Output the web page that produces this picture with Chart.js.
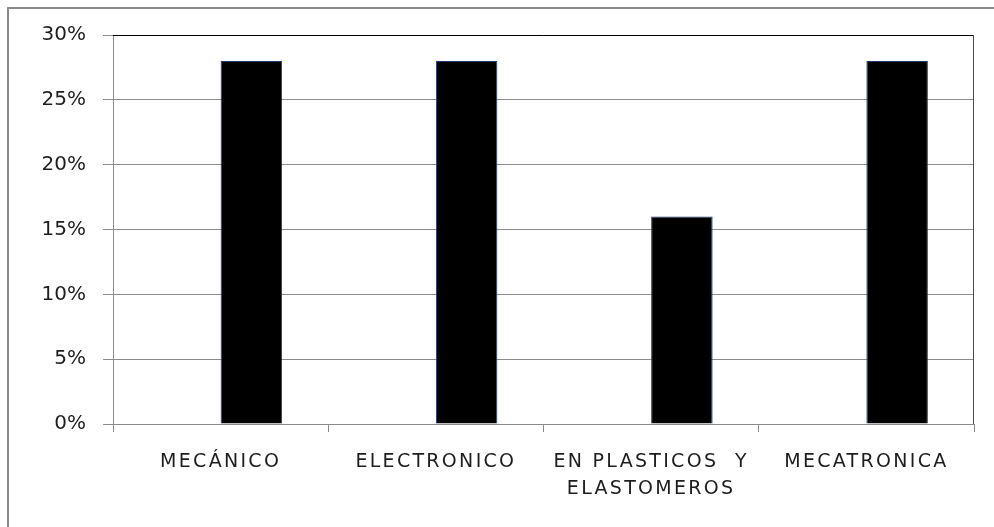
<!DOCTYPE html>
<html>
<head>
<meta charset="utf-8">
<script src="https://cdn.jsdelivr.net/npm/chart.js@4.4.1/dist/chart.umd.min.js"></script>
<style>
  html, body { margin: 0; padding: 0; background: #fff; }
  canvas { display: block; }
</style>
</head>
<body>
<canvas id="myBarChart" width="994" height="527"></canvas>
<script>
// categorias del eje x
var categorias = ['MECÁNICO', 'ELECTRONICO', ['EN PLASTICOS  Y', 'ELASTOMEROS'], 'MECATRONICA'];
// la primera serie esta vacia, solo ocupa su hueco en cada grupo
var serieVacia = [null, null, null, null];
var porcentajes = [28, 28, 16, 28];
// eje y en %
var ejeMin = 0;
var ejeMax = 30;
var ejePaso = 5;

// marco exterior y borde superior/derecho del area del grafico
var marcoPlugin = {
  id: 'marco',
  beforeDraw: function(chart) {
    var ctx = chart.ctx;
    ctx.save();
    ctx.strokeStyle = '#8c8c8c';
    ctx.lineWidth = 2;
    ctx.strokeRect(8, 8, 1200, 800);
    ctx.restore();

    // espaciado de letras en las etiquetas del eje x
    var sx = chart.scales.x;
    if (sx && !sx._espaciado) {
      var orig = sx.drawLabels.bind(sx);
      sx.drawLabels = function(area) {
        chart.ctx.save();
        chart.ctx.letterSpacing = '2.3px';
        orig(area);
        chart.ctx.restore();
      };
      sx._espaciado = true;
    }
  },
  afterDraw: function(chart) {
    var ctx = chart.ctx;
    var a = chart.chartArea;
    ctx.save();
    ctx.lineWidth = 1;
    ctx.strokeStyle = '#000';
    ctx.beginPath();
    ctx.moveTo(a.left, a.top + 0.5);
    ctx.lineTo(a.right, a.top + 0.5);
    ctx.stroke();
    ctx.strokeStyle = '#4a4a4a';
    ctx.beginPath();
    ctx.moveTo(a.right - 0.5, a.top);
    ctx.lineTo(a.right - 0.5, a.bottom);
    ctx.stroke();
    ctx.restore();
  }
};

var ctx = document.getElementById('myBarChart').getContext('2d');
var myBarChart = new Chart(ctx, {
  type: 'bar',
  data: {
    labels: categorias,
    datasets: [{
      label: 'Serie1',
      data: serieVacia,
      backgroundColor: '#4f81bd'
    },
    {
      label: 'Serie2',
      data: porcentajes,
      backgroundColor: '#000000',
      borderColor: '#1f3a6e',
      borderWidth: 1
    }]
  },
  options: {
    responsive: false,
    animation: false,
    devicePixelRatio: 1,
    layout: { padding: { left: 0, top: 35, right: 20, bottom: 0 } },
    datasets: {
      bar: { categoryPercentage: 2 / 3.5, barPercentage: 1 }
    },
    plugins: {
      legend: { display: false },
      tooltip: { enabled: false }
    },
    scales: {
      x: {
        offset: true,
        grid: {
          offset: true,
          drawOnChartArea: false,
          drawTicks: true,
          tickLength: 8,
          color: '#8c8c8c'
        },
        border: { color: '#8c8c8c' },
        ticks: {
          padding: 17,
          color: '#1e1e1e',
          maxRotation: 0,
          autoSkip: false,
          font: { family: 'DejaVu Sans', size: 19, lineHeight: 1.42 }
        },
        afterFit: function(scale) { scale.height = 103; }
      },
      y: {
        min: ejeMin,
        max: ejeMax,
        grid: {
          color: '#8c8c8c',
          tickLength: 10
        },
        border: { color: '#8c8c8c' },
        ticks: {
          stepSize: ejePaso,
          padding: 17,
          color: '#1e1e1e',
          font: { family: 'DejaVu Sans', size: 20 },
          callback: function(v) { return v + '%'; }
        },
        afterFit: function(scale) { scale.width = 113; }
      }
    }
  },
  plugins: [marcoPlugin]
});
myBarChart.draw();
</script>
</body>
</html>
